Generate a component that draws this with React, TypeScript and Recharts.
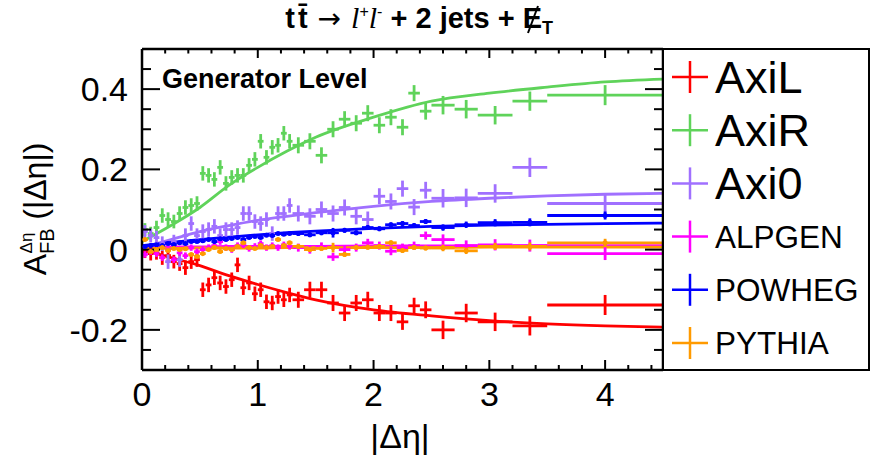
import { ComposedChart, Scatter, Line, XAxis, YAxis, ErrorBar, Legend, Customized } from 'recharts'

const SANS = 'Liberation Sans, Arial, Helvetica, sans-serif'
const SERIF = 'Liberation Serif, Times New Roman, serif'

// bin edges of |delta eta|
const binEdges = [
  0, 0.05, 0.1, 0.15, 0.2, 0.25, 0.3, 0.35, 0.4, 0.45, 0.5, 0.55, 0.6, 0.65, 0.7, 0.75, 0.8, 0.85, 0.9, 0.95,
  1, 1.05, 1.1, 1.15, 1.2, 1.25, 1.3, 1.4, 1.5, 1.6, 1.7, 1.8, 1.9, 2, 2.1, 2.2, 2.3, 2.4, 2.5, 2.7, 2.9, 3.2, 3.5, 4.5,
]

// bin contents, one per bin
const axiL = [
  -0.005, -0.01, -0.008, -0.02, -0.015, -0.03, -0.035, -0.045, -0.03, -0.025,
  -0.1, -0.088, -0.07, -0.083, -0.092, -0.075, -0.038, -0.095, -0.083, -0.11, -0.1, -0.13, -0.133, -0.117, -0.125, -0.113,
  -0.125, -0.1, -0.1, -0.133, -0.158, -0.133, -0.125, -0.158, -0.158, -0.18, -0.14, -0.15,
  -0.2, -0.158, -0.18, -0.19, -0.138,
]
const axiR = [
  0.05, 0.04, 0.055, 0.085, 0.075, 0.07, 0.09, 0.105, 0.11, 0.115,
  0.19, 0.185, 0.175, 0.205, 0.165, 0.18, 0.185, 0.185, 0.21, 0.225, 0.27, 0.23, 0.255, 0.26, 0.29, 0.27,
  0.26, 0.27, 0.235, 0.3, 0.325, 0.315, 0.34, 0.31, 0.33, 0.305, 0.39, 0.345,
  0.36, 0.35, 0.335, 0.37, 0.385,
]
const axi0 = [
  0.045, 0.035, 0.03, 0.015, -0.03, 0.02, -0.025, 0.035, 0.065, 0.035,
  0.045, 0.05, 0.058, 0.035, 0.05, 0.05, 0.055, 0.09, 0.09, 0.07, 0.065, 0.075, 0.04, 0.09, 0.09, 0.11,
  0.09, 0.083, 0.1, 0.09, 0.105, 0.083, 0.075, 0.133, 0.12, 0.152, 0.106, 0.148,
  0.128, 0.129, 0.14, 0.205, 0.115,
]
const alpgen = [
  -0.012, -0.005, -0.01, -0.02, 0.0, -0.025, -0.008, -0.015, 0.005, -0.005,
  0.0, 0.005, 0.01, 0.02, 0.005, 0.0, 0.01, 0.012, 0.003, 0.008, 0.015, 0.005, 0.01, 0.005, 0.012, 0.008,
  0.005, 0.0, 0.008, -0.018, 0.0, 0.005, 0.017, 0.01, -0.004, 0.005, 0.01, 0.035,
  0.025, 0.01, 0.012, 0.01, -0.01,
]
const powheg = [
  0.008, 0.01, 0.012, 0.01, 0.015, 0.013, 0.017, 0.015, 0.02, 0.02,
  0.022, 0.025, 0.02, 0.027, 0.025, 0.028, 0.03, 0.025, 0.03, 0.033, 0.03, 0.036, 0.035, 0.04, 0.038, 0.04,
  0.04, 0.037, 0.042, 0.042, 0.048, 0.042, 0.055, 0.052, 0.062, 0.065, 0.06, 0.07,
  0.055, 0.062, 0.067, 0.068, 0.085,
]
const pythia = [
  0.025, -0.005, 0.0, 0.005, -0.002, 0.003, 0.0, 0.002, -0.012, -0.017,
  -0.01, 0.0, 0.005, -0.005, 0.003, 0.0, 0.008, 0.017, 0.005, 0.003, 0.01, 0.005, 0.008, 0.025, 0.01, 0.017,
  0.008, 0.0, 0.003, 0.005, -0.012, 0.005, 0.006, 0.008, 0.017, -0.002, 0.005, 0.004,
  0.004, -0.003, 0.008, 0.008, 0.017,
]

// statistical errors
const axiErr = [
  0.016, 0.017, 0.017, 0.018, 0.018, 0.017, 0.018, 0.018, 0.018, 0.018,
  0.018, 0.018, 0.018, 0.018, 0.018, 0.018, 0.018, 0.018, 0.018, 0.018, 0.018, 0.018, 0.018, 0.018, 0.018, 0.018,
  0.02, 0.02, 0.02, 0.02, 0.02, 0.02, 0.02, 0.02, 0.02, 0.02, 0.02, 0.021,
  0.023, 0.023, 0.023, 0.024, 0.025,
]
const mcErr = [
  0.004, 0.004, 0.004, 0.004, 0.004, 0.004, 0.004, 0.004, 0.004, 0.004,
  0.004, 0.004, 0.004, 0.004, 0.004, 0.004, 0.004, 0.004, 0.004, 0.004, 0.004, 0.004, 0.004, 0.004, 0.004, 0.004,
  0.006, 0.006, 0.006, 0.012, 0.006, 0.006, 0.006, 0.006, 0.006, 0.006, 0.006, 0.006,
  0.008, 0.008, 0.009, 0.01, 0.01,
]
const alpErr = [
  0.008, 0.008, 0.008, 0.008, 0.008, 0.008, 0.008, 0.008, 0.008, 0.008,
  0.008, 0.008, 0.008, 0.008, 0.008, 0.008, 0.008, 0.008, 0.008, 0.008, 0.008, 0.008, 0.008, 0.008, 0.008, 0.008,
  0.01, 0.01, 0.01, 0.01, 0.01, 0.01, 0.01, 0.01, 0.01, 0.01, 0.01, 0.01,
  0.013, 0.013, 0.014, 0.015, 0.016,
]

// fitted curves, read at these points
const curveX = [0, 0.25, 0.5, 0.75, 1, 1.25, 1.5, 2, 2.5, 3, 3.5, 4, 4.5]
const fitAxiL = [0.0, -0.02, -0.04, -0.065, -0.087, -0.107, -0.125, -0.15, -0.165, -0.177, -0.185, -0.19, -0.193]
const fitAxiR = [0.02, 0.06, 0.105, 0.16, 0.205, 0.245, 0.28, 0.33, 0.37, 0.39, 0.405, 0.418, 0.425]
const fitAxi0 = [0.005, 0.025, 0.045, 0.06, 0.073, 0.083, 0.092, 0.108, 0.12, 0.128, 0.134, 0.138, 0.14]
const fitAlpgen = [0.006, 0.007, 0.007, 0.008, 0.008, 0.008, 0.008, 0.009, 0.009, 0.009, 0.01, 0.01, 0.01]
const fitPowheg = [0.01, 0.018, 0.025, 0.031, 0.037, 0.042, 0.046, 0.053, 0.058, 0.061, 0.063, 0.065, 0.066]
const fitPythia = [0.003, 0.003, 0.004, 0.004, 0.004, 0.005, 0.005, 0.005, 0.005, 0.006, 0.006, 0.006, 0.006]

const xTicks = [0, 1, 2, 3, 4]
const xMinorTicks = [0.2, 0.4, 0.6, 0.8, 1.2, 1.4, 1.6, 1.8, 2.2, 2.4, 2.6, 2.8, 3.2, 3.4, 3.6, 3.8, 4.2, 4.4]
const yTicks = [-0.2, 0, 0.2, 0.4]
const yMinorTicks = [-0.25, -0.15, -0.1, -0.05, 0.05, 0.1, 0.15, 0.25, 0.3, 0.35, 0.45]

const series = [
  { name: 'AxiL', color: '#ff0000', values: axiL, errors: axiErr, fit: fitAxiL, dot: false, big: true },
  { name: 'AxiR', color: '#5fd35a', values: axiR, errors: axiErr, fit: fitAxiR, dot: false, big: true },
  { name: 'Axi0', color: '#a070ff', values: axi0, errors: axiErr, fit: fitAxi0, dot: false, big: true },
  { name: 'ALPGEN', color: '#ff00ff', values: alpgen, errors: alpErr, fit: fitAlpgen, dot: false, big: false },
  { name: 'POWHEG', color: '#0000ff', values: powheg, errors: mcErr, fit: fitPowheg, dot: true, big: false },
  { name: 'PYTHIA', color: '#ff9a00', values: pythia, errors: mcErr, fit: fitPythia, dot: true, big: false },
]

const points = (s) =>
  s.values.map((v, i) => ({
    x: (binEdges[i] + binEdges[i + 1]) / 2,
    y: v,
    xerr: (binEdges[i + 1] - binEdges[i]) / 2,
    yerr: s.errors[i],
  }))

const curve = (fit) => curveX.map((x, i) => ({ x, y: fit[i] }))

const renderLegend = () => (
  <div style={{ width: 208, height: 323, border: '2px solid #000', boxSizing: 'border-box', background: '#fff' }}>
    <svg width={204} height={319}>
      {series.map((s, i) => {
        const cy = 27 + i * 53.2
        return (
          <g key={s.name}>
            <line x1={8} x2={44} y1={cy} y2={cy} stroke={s.color} strokeWidth={2.5} />
            <line x1={26} x2={26} y1={cy - 16} y2={cy + 16} stroke={s.color} strokeWidth={2.5} />
            <text x={51} y={cy + (s.big ? 16 : 11)} fontFamily={SANS} fontSize={s.big ? 45 : 31.5} fill="#000">
              {s.name}
            </text>
          </g>
        )
      })}
    </svg>
  </div>
)

const Annotations = () => (
  <g>
    <text x={553} y={28} textAnchor="end" fontFamily={SANS} fontWeight="bold" fontSize={29} fill="#000">
      <tspan>t</tspan>
      <tspan dx={3}>t̄</tspan>
      <tspan dx={10} fontFamily="DejaVu Sans, sans-serif" fontWeight="normal" fontSize={28}>→</tspan>
      <tspan dx={10} fontFamily={SERIF} fontWeight="normal" fontStyle="italic" fontSize={30}>l</tspan>
      <tspan dy={-11} fontSize={16} fontWeight="normal">+</tspan>
      <tspan dy={11} fontFamily={SERIF} fontWeight="normal" fontStyle="italic" fontSize={30}>l</tspan>
      <tspan dy={-11} fontSize={16} fontWeight="normal">-</tspan>
      <tspan dy={11}>{' + 2 jets + E'}</tspan>
      <tspan dy={6} fontSize={18}>T</tspan>
    </text>
    {/* slash through the E of missing E_T */}
    <line x1={528} y1={33} x2={538} y2={6} stroke="#000" strokeWidth={2} />
    <text x={162} y={88} fontFamily={SANS} fontWeight="bold" fontSize={27} fill="#000">
      Generator Level
    </text>
    <text x={400} y={448} textAnchor="middle" fontFamily={SANS} fontSize={34} fill="#000">
      |Δη|
    </text>
    <text transform="translate(46, 209) rotate(-90)" textAnchor="middle" fontFamily={SANS} fontSize={32} fill="#000">
      <tspan>A</tspan>
      <tspan fontSize={20} dy={8}>FB</tspan>
      <tspan fontSize={17} dx={-25} dy={-22}>Δη</tspan>
      <tspan fontSize={32} dx={4} dy={14}>{' (|Δη|)'}</tspan>
    </text>
  </g>
)

const axisStyle = { stroke: '#000', strokeWidth: 2.5 }
const tickStyle = { stroke: '#000', strokeWidth: 2 }
const tickFont = { fontSize: 34, fill: '#000', fontFamily: SANS }
const noLabel = () => <g />
const THIN = 0.01
const X_DOMAIN = [0, 4.5]
const Y_DOMAIN = [-0.3, 0.5]

// tick-mark-only axes: mirrored so the marks point into the frame
const xTickAxis = (id, side, ticks, size, line) => (
  <XAxis key={id} xAxisId={id} orientation={side} type="number" dataKey="x" domain={X_DOMAIN} ticks={ticks}
    interval={0} allowDataOverflow height={THIN} mirror axisLine={line ? axisStyle : false} tick={noLabel}
    tickSize={size} tickLine={tickStyle} />
)
const yTickAxis = (id, side, ticks, size, line) => (
  <YAxis key={id} yAxisId={id} orientation={side} type="number" domain={Y_DOMAIN} ticks={ticks}
    interval={0} allowDataOverflow width={THIN} mirror axisLine={line ? axisStyle : false} tick={noLabel}
    tickSize={size} tickLine={tickStyle} />
)

export default function App() {
  return (
    <div style={{ position: 'absolute', left: 0, top: 0, width: 870, height: 462, background: '#fff' }}>
      <ComposedChart width={870} height={462} margin={{ top: 49, right: 207, bottom: 92, left: 142 }}>
        <XAxis xAxisId="main" type="number" dataKey="x" domain={X_DOMAIN} ticks={xTicks} interval={0} allowDataOverflow
          height={THIN} axisLine={axisStyle} tickLine={false} tickSize={0} tickMargin={12} tick={tickFont} />
        {xTickAxis('majB', 'bottom', xTicks, 10, false)}
        {xTickAxis('minB', 'bottom', xMinorTicks, 5, false)}
        {xTickAxis('majT', 'top', xTicks, 9, true)}
        {xTickAxis('minT', 'top', xMinorTicks, 4.5, false)}
        <YAxis yAxisId="main" type="number" domain={Y_DOMAIN} ticks={yTicks} interval={0} allowDataOverflow
          width={THIN} axisLine={axisStyle} tickLine={false} tickSize={0} tickMargin={14} tick={tickFont} />
        {yTickAxis('majL', 'left', yTicks, 18, false)}
        {yTickAxis('minL', 'left', yMinorTicks, 9, false)}
        {yTickAxis('majR', 'right', yTicks, 18, true)}
        {yTickAxis('minR', 'right', yMinorTicks, 9, false)}

        {series.map((s) => (
          <Line key={s.name + '-fit'} xAxisId="main" yAxisId="main" data={curve(s.fit)} dataKey="y" type="monotone"
            stroke={s.color} strokeWidth={2.8} dot={false} activeDot={false} isAnimationActive={false} legendType="none" />
        ))}
        {series.map((s) => (
          <Scatter key={s.name} name={s.name} xAxisId="main" yAxisId="main" data={points(s)} dataKey="y"
            fill={s.color} isAnimationActive={false}
            shape={(p) => (s.dot ? <circle cx={p.cx} cy={p.cy} r={2.5} fill={s.color} /> : <g />)}>
            <ErrorBar dataKey="xerr" direction="x" width={0} stroke={s.color} strokeWidth={2.8} />
            <ErrorBar dataKey="yerr" direction="y" width={0} stroke={s.color} strokeWidth={2.8} />
          </Scatter>
        ))}

        <Customized component={<Annotations />} />
        <Legend layout="vertical" align="center" verticalAlign="middle" content={renderLegend}
          wrapperStyle={{ left: 662, top: 48, width: 208, height: 323 }} />
      </ComposedChart>
    </div>
  )
}
